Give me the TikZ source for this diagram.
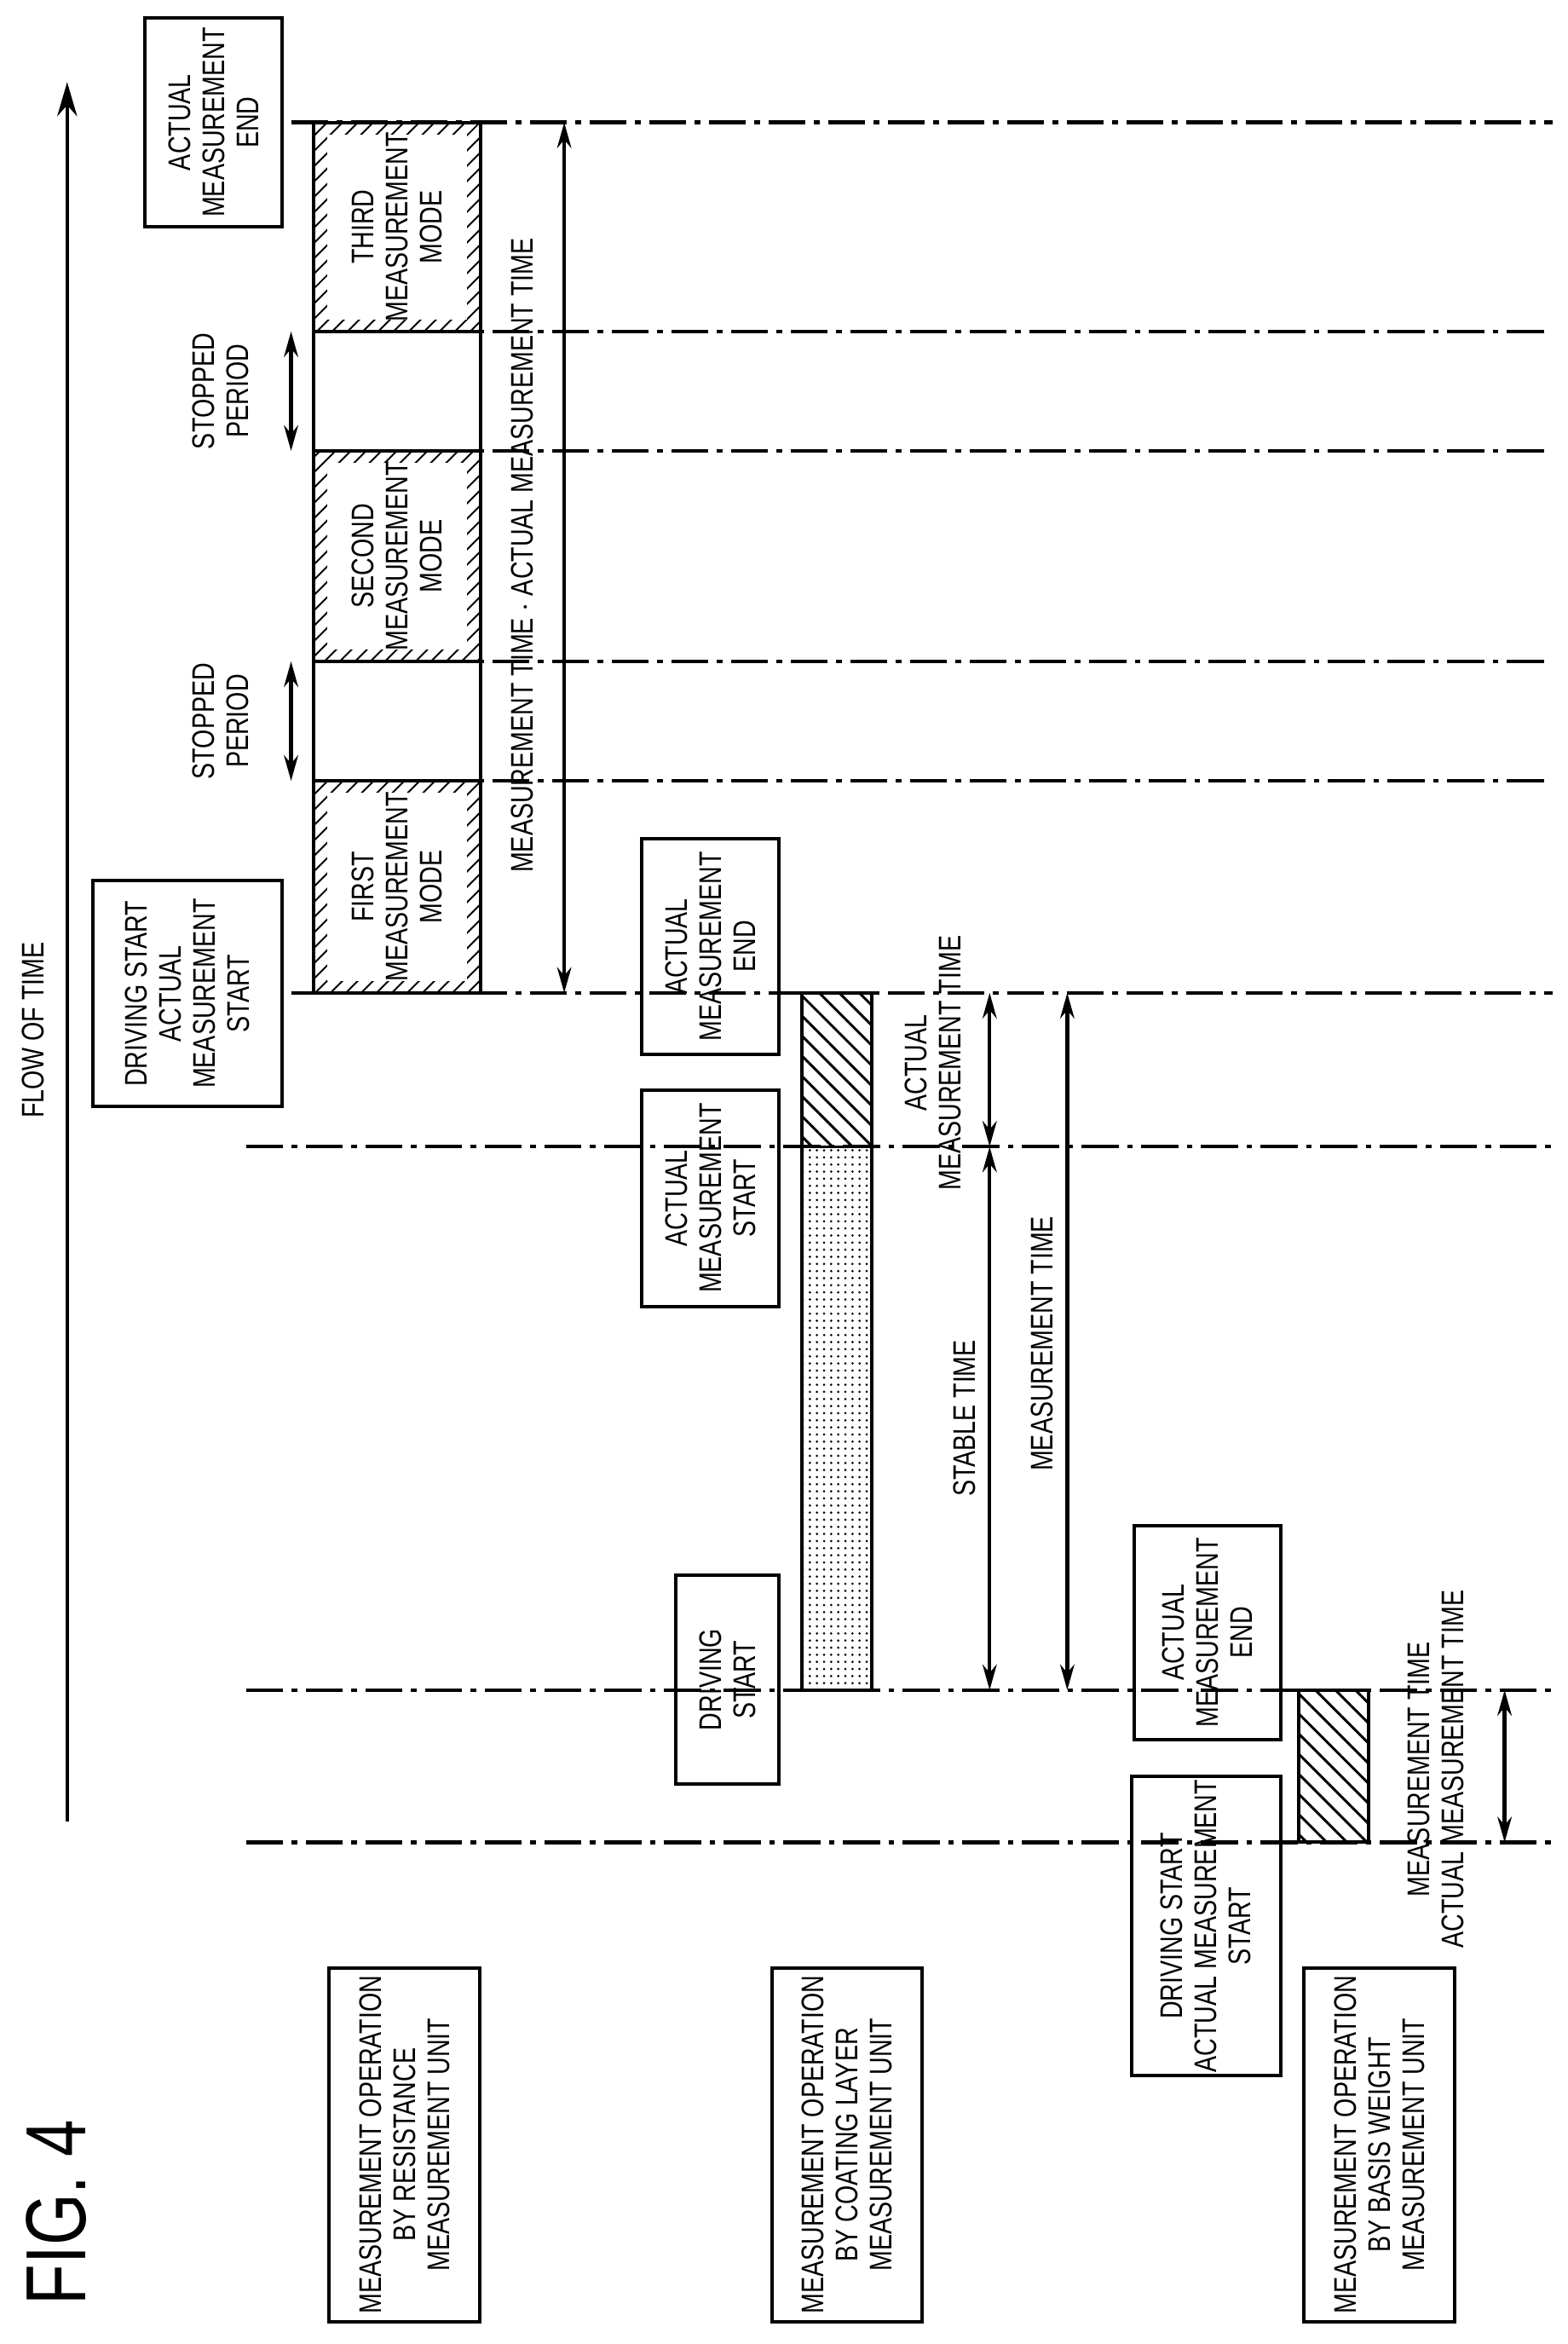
\documentclass[tikz,border=0pt]{standalone}
\usepackage{fontspec}
\setmainfont{Liberation Sans}[FakeStretch=0.78]
\usetikzlibrary{arrows.meta,patterns.meta}
\begin{document}
\begin{tikzpicture}[x=0.5253pt,y=-0.5253pt,
  dd/.style={line width=1.3pt,dash pattern=on 13pt off 3pt on 2pt off 3pt},
  arr/.style={line width=1.3pt,{Stealth[length=9pt,width=5pt]}-{Stealth[length=9pt,width=5pt]}},
  lbl/.style={rotate=90,align=center,font=\fontsize{11}{12}\selectfont,inner sep=1pt},
  box/.style={draw,line width=1.2pt,rotate=90,align=center,font=\fontsize{11}{12}\selectfont,inner sep=0pt},
  hatchA/.style={pattern={Lines[angle=45,distance=4pt,line width=0.7pt]}},
  hatchB/.style={pattern={Lines[angle=-45,distance=5pt,line width=0.9pt]}},
  dotsP/.style={pattern={Dots[distance=2.5pt,radius=0.45pt]}}]
\useasboundingbox (0,0) rectangle (1050,1570);
\fill[white] (0,0) rectangle (1050,1570);
% title and time axis
\node[rotate=90,font=\fontsize{30}{32}\selectfont] (fig) at (38,1482) {FIG. 4};
\coordinate (t0) at (45,1220); \coordinate (t1) at (45,55);
\draw[line width=1.3pt,-{Stealth[length=12pt,width=7pt]}] (t0) -- (t1);
\node[lbl] (flow) at (22,690) {FLOW OF TIME};
% dash-dot lines
\foreach \n/\xa/\yy in {l1/195/82,l2/210/222,l3/210/302,l4/210/443,l5/210/523,l6/195/665,l7/165/768,l8/165/1132,l9/165/1234}{
  \coordinate (\n a) at (\xa,\yy); \coordinate (\n b) at (1040,\yy);
  \draw[dd] (\n a) -- (\n b);}
% measurement mode boxes
\foreach \n/\ya/\yb/\t in {m1/523/665/FIRST,m2/302/443/SECOND,m3/82/222/THIRD}{
  \fill[hatchA] (210,\ya) rectangle (322,\yb);
  \fill[white] (219,\ya+8) rectangle (313,\yb-8);
  \draw[line width=1.2pt] (210,\ya) rectangle (322,\yb);
  \node[lbl] (\n) at (266,{(\ya+\yb)/2}) {\t\\MEASUREMENT\\MODE};}
\draw[line width=1.2pt] (210,443) rectangle (322,523);
\draw[line width=1.2pt] (210,222) rectangle (322,302);
% stopped periods
\coordinate (s1a) at (195,443); \coordinate (s1b) at (195,523);
\coordinate (s2a) at (195,222); \coordinate (s2b) at (195,302);
\draw[arr] (s1a) -- (s1b); \draw[arr] (s2a) -- (s2b);
\node[lbl] (sp1) at (148,483) {STOPPED\\PERIOD};
\node[lbl] (sp2) at (148,262) {STOPPED\\PERIOD};
% big measurement time arrow
\coordinate (mt1) at (378,82); \coordinate (mt2) at (378,665);
\draw[arr] (mt1) -- (mt2);
\node[lbl] (mtl) at (350,372) {MEASUREMENT TIME $\cdot$ ACTUAL MEASUREMENT TIME};
% unit 50 boxes
\node[box,minimum width=140*0.5253pt,minimum height=92*0.5253pt] (b1) at (143,82) {ACTUAL\\MEASUREMENT\\END};
\node[box,minimum width=151*0.5253pt,minimum height=127*0.5253pt] (b2) at (125.5,665.5) {DRIVING START\\ACTUAL\\MEASUREMENT\\START};
% unit 70
\node[box,minimum width=144*0.5253pt,minimum height=92*0.5253pt] (c1) at (476,634) {ACTUAL\\MEASUREMENT\\END};
\node[box,minimum width=145*0.5253pt,minimum height=92*0.5253pt] (c2) at (476,802.5) {ACTUAL\\MEASUREMENT\\START};
\node[box,minimum width=140*0.5253pt,minimum height=69*0.5253pt] (c3) at (487.5,1125) {DRIVING\\START};
\fill[hatchB] (537,665) rectangle (584,768);
\fill[dotsP] (537,768) rectangle (584,1132);
\draw[line width=1.2pt] (537,665) rectangle (584,1132);
\draw[line width=1pt] (537,768) -- (584,768);
\coordinate (ca1) at (663,665); \coordinate (ca2) at (663,768); \coordinate (ca3) at (663,1132);
\coordinate (cb1) at (715,665); \coordinate (cb2) at (715,1132);
\draw[arr] (ca1) -- (ca2); \draw[arr] (ca2) -- (ca3); \draw[arr] (cb1) -- (cb2);
\node[lbl] (amt) at (625,712) {ACTUAL\\MEASUREMENT TIME};
\node[lbl] (st) at (646,950) {STABLE TIME};
\node[lbl] (mt) at (698,900) {MEASUREMENT TIME};
% unit 30
\node[box,minimum width=143*0.5253pt,minimum height=98*0.5253pt] (d1) at (809,1093.5) {ACTUAL\\MEASUREMENT\\END};
\node[box,minimum width=200*0.5253pt,minimum height=100*0.5253pt] (d2) at (808,1290) {DRIVING START\\ACTUAL MEASUREMENT\\START};
\fill[hatchB] (870,1132) rectangle (917,1234);
\draw[line width=1.2pt] (870,1132) rectangle (917,1234);
\coordinate (da1) at (1008,1132); \coordinate (da2) at (1008,1234);
\draw[arr] (da1) -- (da2);
\node[lbl] (dl) at (962,1185) {MEASUREMENT TIME\\ACTUAL MEASUREMENT TIME};
% operation labels
\foreach \n/\xc/\t in {o1/271/RESISTANCE,o2/567.5/COATING LAYER,o3/924/BASIS WEIGHT}{
  \node[box,minimum width=237*0.5253pt,minimum height=101*0.5253pt] (\n) at (\xc,1436.5) {MEASUREMENT OPERATION\\BY \t\\MEASUREMENT UNIT};}
\end{tikzpicture}
\end{document}
